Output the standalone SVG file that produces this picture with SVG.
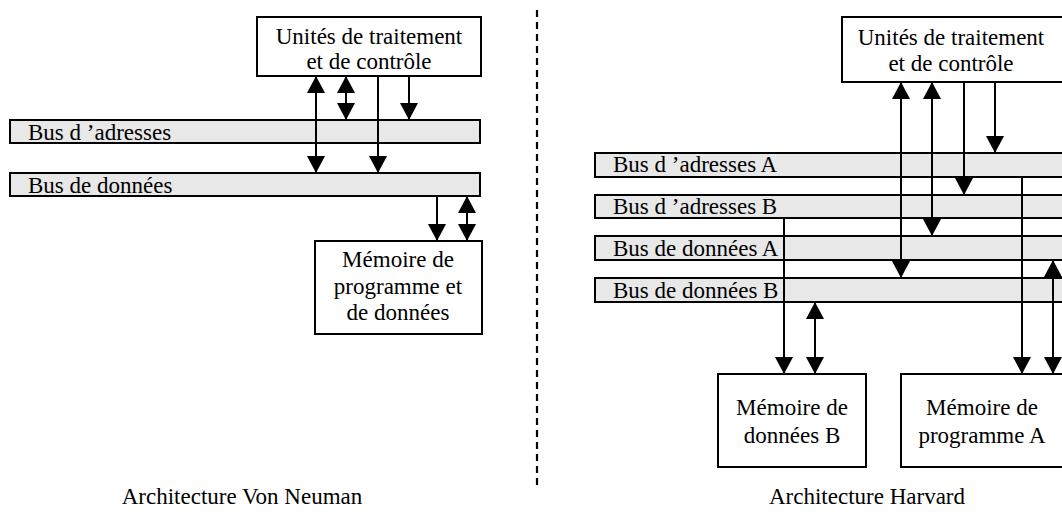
<svg xmlns="http://www.w3.org/2000/svg" width="1062" height="519" viewBox="0 0 1062 519">
  <style>
    .box { fill: #ffffff; stroke: #000000; stroke-width: 2; }
    .bus { fill: #e8e8e8; stroke: #000000; stroke-width: 2; }
    .lbl { font-family: "Liberation Serif", "Times New Roman", serif; font-size: 23px; fill: #000000; }
    .mid { text-anchor: middle; }
    .wire { stroke: #000000; stroke-width: 2; fill: none; }
    .one { marker-end: url(#head); }
    .two { marker-start: url(#head); marker-end: url(#head); }
    .sep { stroke: #000000; stroke-width: 2.2; stroke-dasharray: 7 5; }
  </style>
  <defs>
    <marker id="head" markerUnits="userSpaceOnUse" markerWidth="18" markerHeight="18" refX="17" refY="9" orient="auto-start-reverse">
      <path d="M0,0 L17,9 L0,18 Z" fill="#000000"/>
    </marker>
  </defs>

  <rect width="1062" height="519" fill="#ffffff"/>

  <!-- separator between the two architectures -->
  <line class="sep" x1="537" y1="10" x2="537" y2="490"/>

  <!-- ===== Von Neumann ===== -->
  <g id="vn-cpu">
    <rect class="box" x="257" y="17" width="224" height="59"/>
    <text class="lbl mid" x="369" y="44">Unités de traitement</text>
    <text class="lbl mid" x="369" y="69">et de contrôle</text>
  </g>
  <g id="vn-bus-addr">
    <rect class="bus" x="10" y="120" width="470" height="23"/>
    <text class="lbl" x="28" y="140">Bus d ’adresses</text>
  </g>
  <g id="vn-bus-data">
    <rect class="bus" x="10" y="173" width="470" height="23"/>
    <text class="lbl" x="28" y="193">Bus de données</text>
  </g>
  <g id="vn-mem">
    <rect class="box" x="315" y="241" width="167" height="93"/>
    <text class="lbl mid" x="398" y="267">Mémoire de</text>
    <text class="lbl mid" x="398" y="294">programme et</text>
    <text class="lbl mid" x="398" y="320">de données</text>
  </g>

  <!-- ===== Harvard ===== -->
  <g id="hv-cpu">
    <rect class="box" x="842" y="17" width="224" height="65"/>
    <text class="lbl mid" x="951" y="45">Unités de traitement</text>
    <text class="lbl mid" x="951" y="71">et de contrôle</text>
  </g>
  <g id="hv-bus-addr-a">
    <rect class="bus" x="595" y="153" width="470" height="24"/>
    <text class="lbl" x="613" y="172">Bus d ’adresses A</text>
  </g>
  <g id="hv-bus-addr-b">
    <rect class="bus" x="595" y="195" width="470" height="23"/>
    <text class="lbl" x="613" y="214">Bus d ’adresses B</text>
  </g>
  <g id="hv-bus-data-a">
    <rect class="bus" x="595" y="236" width="470" height="24"/>
    <text class="lbl" x="613" y="256">Bus de données A</text>
  </g>
  <g id="hv-bus-data-b">
    <rect class="bus" x="595" y="278" width="470" height="24"/>
    <text class="lbl" x="613" y="298">Bus de données B</text>
  </g>
  <g id="hv-mem-b">
    <rect class="box" x="718" y="374" width="148" height="93"/>
    <text class="lbl mid" x="792" y="415">Mémoire de</text>
    <text class="lbl mid" x="792" y="443">données B</text>
  </g>
  <g id="hv-mem-a">
    <rect class="box" x="901" y="374" width="165" height="93"/>
    <text class="lbl mid" x="982" y="415">Mémoire de</text>
    <text class="lbl mid" x="982" y="443">programme A</text>
  </g>

  <!-- bus connections -->
  <g id="connectors">
    <!-- Von Neumann -->
    <line class="wire two" x1="316" y1="76" x2="316" y2="173"/>
    <line class="wire two" x1="346" y1="76" x2="346" y2="120"/>
    <line class="wire one" x1="378" y1="76" x2="378" y2="173"/>
    <line class="wire one" x1="409" y1="76" x2="409" y2="120"/>
    <line class="wire one" x1="437" y1="196" x2="437" y2="241"/>
    <line class="wire two" x1="467" y1="196" x2="467" y2="241"/>
    <!-- Harvard -->
    <line class="wire two" x1="901" y1="82" x2="901" y2="278"/>
    <line class="wire two" x1="932" y1="82" x2="932" y2="236"/>
    <line class="wire one" x1="964" y1="82" x2="964" y2="195"/>
    <line class="wire one" x1="995" y1="82" x2="995" y2="153"/>
    <line class="wire one" x1="784" y1="218" x2="784" y2="374"/>
    <line class="wire two" x1="815" y1="302" x2="815" y2="374"/>
    <line class="wire one" x1="1022" y1="177" x2="1022" y2="374"/>
    <line class="wire two" x1="1053" y1="260" x2="1053" y2="374"/>
  </g>

  <!-- captions -->
  <text class="lbl mid" x="242" y="504">Architecture Von Neuman</text>
  <text class="lbl mid" x="867" y="504">Architecture Harvard</text>
</svg>
